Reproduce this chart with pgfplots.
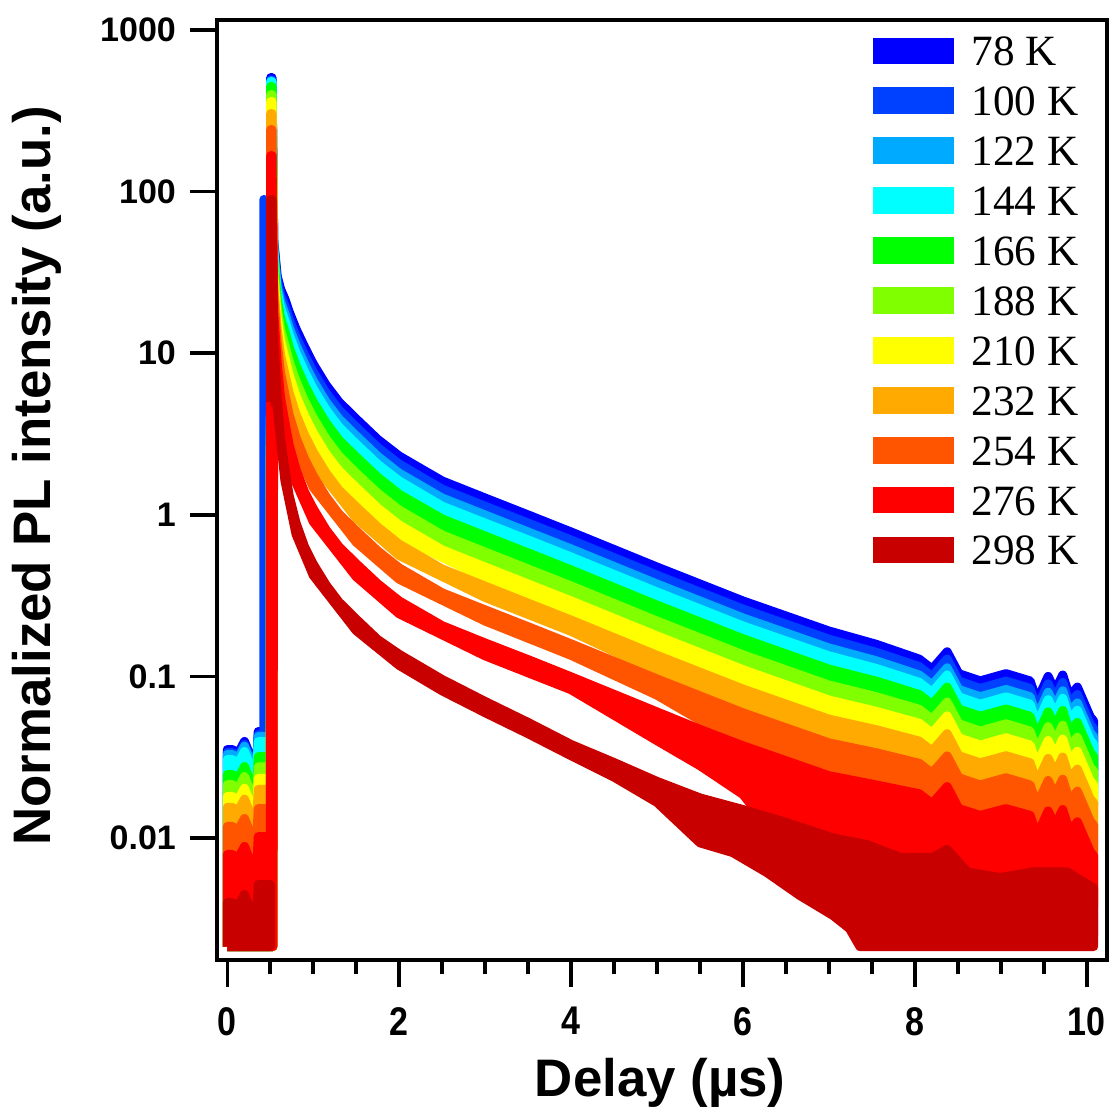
\documentclass[border=0pt]{standalone}
\usepackage{fontspec}
\setmainfont{Liberation Serif}
\newfontfamily\lsans{Liberation Sans}
\newfontfamily\lsansc[FakeStretch=0.85]{Liberation Sans}
\usepackage{pgfplots}
\pgfplotsset{compat=1.18}
\definecolor{k78}{RGB}{0,0,255}
\definecolor{k100}{RGB}{0,64,255}
\definecolor{k122}{RGB}{0,170,255}
\definecolor{k144}{RGB}{0,255,255}
\definecolor{k166}{RGB}{0,255,0}
\definecolor{k188}{RGB}{128,255,0}
\definecolor{k210}{RGB}{255,255,0}
\definecolor{k232}{RGB}{255,170,0}
\definecolor{k254}{RGB}{255,85,0}
\definecolor{k276}{RGB}{255,0,0}
\definecolor{k298}{RGB}{200,0,0}
\pgfplotsset{ser/.style={draw=#1, fill=#1, line width=2.25pt, line join=round, mark=none}}
\begin{document}
\begin{tikzpicture}
\begin{axis}[
  name=ax,
  scale only axis, width=222.5pt, height=235pt,
  xmin=-0.12, xmax=10.235,
  ymode=log, ymin=0.001758, ymax=1153,
  axis line style={line width=0.9pt},
  tick align=outside, tick pos=left,
  major tick length=6.75pt, minor tick length=3.6pt,
  every tick/.append style={black, line width=0.9pt},
  xtick={0,2,4,6,8,10}, xticklabels={0,2,4,6,8,10}, minor x tick num=3,
  ytick={0.01,0.1,1,10,100,1000}, yticklabels={0.01,0.1,1,10,100,1000},
  yminorticks=false,
  /pgf/number format/assume math mode=true,
  yticklabel style={font=\lsans\bfseries\fontsize{8.5}{10}\selectfont},
  xticklabel style={font=\lsansc\bfseries\fontsize{10}{12}\selectfont, yshift=-1.5pt},
  xlabel={Delay (µs)}, ylabel={Normalized PL intensity (a.u.)},
  label style={font=\lsans\bfseries\fontsize{13.2}{15}\selectfont},
  xlabel style={at={(axis description cs:0.498,-0.1457)}, anchor=base},
  ylabel style={at={(axis description cs:-0.2022,0.515)}, anchor=center},
  legend image code/.code={\path[#1,draw=none] (0pt,-3.35pt) rectangle (20.2pt,3.35pt);},
  legend style={draw=none, fill=none, at={(axis description cs:0.737,0.983)}, anchor=north west,
    inner sep=0pt, outer sep=0pt, row sep=4.975pt, column sep=4.5pt,
    font=\fontsize{10.8}{12}\selectfont,
    nodes={inner sep=0pt, text height=7.5pt, text depth=0pt}},
  legend cell align=left,
]
% 78 K
\addplot[ser=k78] coordinates {
(0,0.00213) (0,0.0353) (0.06,0.0353) (0.12,0.0329) (0.20,0.0396) (0.26,0.0329) (0.31,0.0277) (0.34,0.0277) (0.36,0.0456) (0.50,0.0456) (0.505,508) (0.52,508)
(0.54,50.1) (0.58,30.1) (0.62,24.9) (0.67,21.6) (0.72,18.0) (0.80,14.1) (0.90,10.9) (1.00,8.57) (1.15,6.35) (1.30,4.99) (1.50,3.92) (1.75,2.93) (2.00,2.31) (2.50,1.62) (3.00,1.27) (3.50,0.998) (4.00,0.783) (5.00,0.475) (6.00,0.293) (7.00,0.191) (7.55,0.158) (8.05,0.128) (8.20,0.111) (8.375,0.142) (8.51,0.104) (8.76,0.0938) (9.06,0.104) (9.34,0.0938) (9.42,0.0705) (9.55,0.100) (9.63,0.0813) (9.72,0.102) (9.80,0.0746) (9.89,0.0859) (10.04,0.0561) (10.08,0.0530)
(10.08,0.0266) (9.56,0.0501) (9.06,0.0521) (8.05,0.0641) (7.0,0.121) (6.0,0.207) (5.0,0.377) (4.0,0.666) (3.0,1.08) (2.0,1.97) (1.5,3.34) (1.0,7.29) (0.80,12.0) (0.67,18.4) (0.58,25.6) (0.54,42.6) (0.53,0.00213) (0,0.00213)
};
\addlegendentry{78 K}
% 100 K
\addplot[ser=k100] coordinates {
(0,0.00213) (0,0.0338) (0.06,0.0338) (0.12,0.0315) (0.20,0.0379) (0.26,0.0315) (0.31,0.0265) (0.34,0.0265) (0.36,0.0437) (0.425,0.0437) (0.425,89.4) (0.428,89.4) (0.428,0.0437) (0.50,0.0437) (0.505,490) (0.52,490)
(0.54,47.3) (0.58,28.1) (0.62,22.8) (0.67,19.6) (0.72,16.2) (0.80,12.6) (0.90,9.71) (1.00,7.64) (1.15,5.66) (1.30,4.45) (1.50,3.49) (1.75,2.61) (2.00,2.06) (2.50,1.44) (3.00,1.13) (3.50,0.889) (4.00,0.698) (5.00,0.423) (6.00,0.261) (7.00,0.170) (7.55,0.141) (8.05,0.115) (8.20,0.0998) (8.375,0.128) (8.51,0.0935) (8.76,0.0843) (9.06,0.0935) (9.34,0.0843) (9.42,0.0634) (9.55,0.0899) (9.63,0.0731) (9.72,0.0917) (9.80,0.0671) (9.89,0.0772) (10.04,0.0504) (10.08,0.0476)
(10.08,0.0238) (9.56,0.0450) (9.06,0.0468) (8.05,0.0576) (7.0,0.107) (6.0,0.185) (5.0,0.336) (4.0,0.594) (3.0,0.962) (2.0,1.75) (1.5,2.97) (1.0,6.50) (0.80,10.7) (0.67,16.7) (0.58,23.9) (0.54,40.3) (0.53,0.00213) (0,0.00213)
};
\addlegendentry{100 K}
% 122 K
\addplot[ser=k122] coordinates {
(0,0.00213) (0,0.0329) (0.06,0.0329) (0.12,0.0306) (0.20,0.0369) (0.26,0.0306) (0.31,0.0258) (0.34,0.0258) (0.36,0.0425) (0.50,0.0425) (0.505,484) (0.52,484)
(0.54,44.4) (0.58,26.0) (0.62,20.8) (0.67,17.6) (0.72,14.4) (0.80,11.2) (0.90,8.56) (1.00,6.73) (1.15,4.98) (1.30,3.92) (1.50,3.08) (1.75,2.30) (2.00,1.81) (2.50,1.27) (3.00,0.997) (3.50,0.783) (4.00,0.615) (5.00,0.373) (6.00,0.230) (7.00,0.150) (7.55,0.125) (8.05,0.102) (8.20,0.0886) (8.375,0.113) (8.51,0.0830) (8.76,0.0749) (9.06,0.0830) (9.34,0.0749) (9.42,0.0563) (9.55,0.0798) (9.63,0.0649) (9.72,0.0814) (9.80,0.0595) (9.89,0.0685) (10.04,0.0448) (10.08,0.0423)
(10.08,0.0212) (9.56,0.0400) (9.06,0.0416) (8.05,0.0511) (7.0,0.0947) (6.0,0.163) (5.0,0.296) (4.0,0.523) (3.0,0.848) (2.0,1.54) (1.5,2.62) (1.0,5.73) (0.80,9.53) (0.67,15.0) (0.58,22.1) (0.54,37.8) (0.53,0.00213) (0,0.00213)
};
\addlegendentry{122 K}
% 144 K
\addplot[ser=k144] coordinates {
(0,0.00213) (0,0.0306) (0.06,0.0306) (0.12,0.0285) (0.20,0.0343) (0.26,0.0285) (0.31,0.0240) (0.34,0.0240) (0.36,0.0395) (0.50,0.0395) (0.505,479) (0.52,479)
(0.54,41.9) (0.58,24.3) (0.62,19.0) (0.67,15.9) (0.72,13.0) (0.80,9.98) (0.90,7.63) (1.00,6.00) (1.15,4.45) (1.30,3.49) (1.50,2.74) (1.75,2.05) (2.00,1.62) (2.50,1.13) (3.00,0.889) (3.50,0.699) (4.00,0.548) (5.00,0.333) (6.00,0.205) (7.00,0.134) (7.55,0.112) (8.05,0.0919) (8.20,0.0797) (8.375,0.102) (8.51,0.0747) (8.76,0.0673) (9.06,0.0747) (9.34,0.0673) (9.42,0.0506) (9.55,0.0718) (9.63,0.0584) (9.72,0.0732) (9.80,0.0536) (9.89,0.0617) (10.04,0.0403) (10.08,0.0381)
(10.08,0.0191) (9.56,0.0360) (9.06,0.0374) (8.05,0.0460) (7.0,0.0846) (6.0,0.145) (5.0,0.264) (4.0,0.466) (3.0,0.757) (2.0,1.38) (1.5,2.33) (1.0,5.11) (0.80,8.49) (0.67,13.5) (0.58,20.7) (0.54,35.7) (0.53,0.00213) (0,0.00213)
};
\addlegendentry{144 K}
% 166 K
\addplot[ser=k166] coordinates {
(0,0.00213) (0,0.0247) (0.06,0.0247) (0.12,0.0230) (0.20,0.0277) (0.26,0.0230) (0.31,0.0194) (0.34,0.0194) (0.36,0.0319) (0.50,0.0319) (0.505,447) (0.52,447)
(0.54,38.2) (0.58,21.8) (0.62,16.6) (0.67,13.6) (0.72,10.9) (0.80,8.35) (0.90,6.34) (1.00,4.99) (1.15,3.70) (1.30,2.90) (1.50,2.28) (1.75,1.71) (2.00,1.34) (2.50,0.943) (3.00,0.739) (3.50,0.581) (4.00,0.456) (5.00,0.276) (6.00,0.171) (7.00,0.111) (7.55,0.0935) (8.05,0.0773) (8.20,0.0670) (8.375,0.0858) (8.51,0.0628) (8.76,0.0567) (9.06,0.0628) (9.34,0.0567) (9.42,0.0426) (9.55,0.0604) (9.63,0.0491) (9.72,0.0616) (9.80,0.0451) (9.89,0.0519) (10.04,0.0339) (10.08,0.0320)
(10.08,0.0160) (9.56,0.0303) (9.06,0.0315) (8.05,0.0387) (7.0,0.0700) (6.0,0.121) (5.0,0.219) (4.0,0.388) (3.0,0.629) (2.0,1.14) (1.5,1.94) (1.0,4.25) (0.80,7.11) (0.67,11.6) (0.58,18.6) (0.54,32.5) (0.53,0.00213) (0,0.00213)
};
\addlegendentry{166 K}
% 188 K
\addplot[ser=k188] coordinates {
(0,0.00213) (0,0.0214) (0.06,0.0214) (0.12,0.0199) (0.20,0.0240) (0.26,0.0199) (0.31,0.0168) (0.34,0.0168) (0.36,0.0276) (0.50,0.0276) (0.505,398) (0.52,398)
(0.54,34.1) (0.58,19.0) (0.62,14.0) (0.67,11.2) (0.72,8.87) (0.80,6.68) (0.90,5.05) (1.00,3.97) (1.15,2.94) (1.30,2.31) (1.50,1.81) (1.75,1.36) (2.00,1.07) (2.50,0.750) (3.00,0.588) (3.50,0.462) (4.00,0.363) (5.00,0.220) (6.00,0.136) (7.00,0.0884) (7.55,0.0749) (8.05,0.0626) (8.20,0.0543) (8.375,0.0694) (8.51,0.0509) (8.76,0.0459) (9.06,0.0509) (9.34,0.0459) (9.42,0.0345) (9.55,0.0489) (9.63,0.0398) (9.72,0.0499) (9.80,0.0365) (9.89,0.0420) (10.04,0.0274) (10.08,0.0259)
(10.08,0.0130) (9.56,0.0245) (9.06,0.0255) (8.05,0.0314) (7.0,0.0558) (6.0,0.0963) (5.0,0.175) (4.0,0.309) (3.0,0.500) (2.0,0.911) (1.5,1.54) (1.0,3.38) (0.80,5.68) (0.67,9.53) (0.58,16.2) (0.54,29.0) (0.53,0.00213) (0,0.00213)
};
\addlegendentry{188 K}
% 210 K
\addplot[ser=k210] coordinates {
(0,0.00213) (0,0.0181) (0.06,0.0181) (0.12,0.0169) (0.20,0.0203) (0.26,0.0169) (0.31,0.0142) (0.34,0.0142) (0.36,0.0234) (0.50,0.0234) (0.505,361) (0.52,361)
(0.54,30.7) (0.58,16.7) (0.62,11.9) (0.67,9.37) (0.72,7.29) (0.80,5.43) (0.90,4.08) (1.00,3.21) (1.15,2.37) (1.30,1.87) (1.50,1.47) (1.75,1.10) (2.00,0.864) (2.50,0.606) (3.00,0.475) (3.50,0.373) (4.00,0.293) (5.00,0.178) (6.00,0.110) (7.00,0.0714) (7.55,0.0608) (8.05,0.0513) (8.20,0.0445) (8.375,0.0569) (8.51,0.0417) (8.76,0.0376) (9.06,0.0417) (9.34,0.0376) (9.42,0.0283) (9.55,0.0401) (9.63,0.0326) (9.72,0.0409) (9.80,0.0299) (9.89,0.0344) (10.04,0.0225) (10.08,0.0213)
(10.08,0.0107) (9.56,0.0201) (9.06,0.0209) (8.05,0.0257) (7.0,0.0451) (6.0,0.0779) (5.0,0.141) (4.0,0.249) (3.0,0.404) (2.0,0.735) (1.5,1.25) (1.0,2.73) (0.80,4.62) (0.67,7.97) (0.58,14.2) (0.54,26.1) (0.53,0.00213) (0,0.00213)
};
\addlegendentry{210 K}
% 232 K
\addplot[ser=k232] coordinates {
(0,0.00213) (0,0.0155) (0.06,0.0155) (0.12,0.0144) (0.20,0.0174) (0.26,0.0144) (0.31,0.0122) (0.34,0.0122) (0.36,0.0200) (0.50,0.0200) (0.505,304) (0.52,304)
(0.54,26.8) (0.58,14.2) (0.62,9.71) (0.67,7.43) (0.72,5.67) (0.80,4.17) (0.90,3.11) (1.00,2.44) (1.15,1.81) (1.30,1.42) (1.50,1.12) (1.75,0.840) (2.00,0.658) (2.50,0.462) (3.00,0.362) (3.50,0.284) (4.00,0.223) (5.00,0.135) (6.00,0.0835) (7.00,0.0544) (7.55,0.0468) (8.05,0.0398) (8.20,0.0345) (8.375,0.0442) (8.51,0.0323) (8.76,0.0292) (9.06,0.0323) (9.34,0.0292) (9.42,0.0219) (9.55,0.0311) (9.63,0.0253) (9.72,0.0317) (9.80,0.0232) (9.89,0.0267) (10.04,0.0174) (10.08,0.0165)
(10.08,0.00827) (9.56,0.0156) (9.06,0.0162) (8.05,0.0199) (7.0,0.0343) (6.0,0.0591) (5.0,0.107) (4.0,0.190) (3.0,0.308) (2.0,0.560) (1.5,0.953) (1.0,2.08) (0.80,3.55) (0.67,6.32) (0.58,12.1) (0.54,22.8) (0.53,0.00213) (0,0.00213)
};
\addlegendentry{232 K}
% 254 K
\addplot[ser=k254] coordinates {
(0,0.00213) (0,0.0118) (0.06,0.0118) (0.12,0.0110) (0.20,0.0132) (0.26,0.0110) (0.31,0.00926) (0.34,0.00926) (0.36,0.0152) (0.50,0.0152) (0.505,242) (0.52,242)
(0.54,22.6) (0.58,11.6) (0.62,7.52) (0.67,5.57) (0.72,4.14) (0.80,3.00) (0.90,2.21) (1.00,1.74) (1.15,1.29) (1.30,1.01) (1.50,0.796) (1.75,0.598) (2.00,0.469) (2.50,0.329) (3.00,0.258) (3.50,0.203) (4.00,0.159) (5.00,0.0964) (6.00,0.0595) (7.00,0.0388) (7.55,0.0337) (8.05,0.0290) (8.20,0.0252) (8.375,0.0322) (8.51,0.0236) (8.76,0.0213) (9.06,0.0236) (9.34,0.0213) (9.42,0.0160) (9.55,0.0227) (9.63,0.0184) (9.72,0.0231) (9.80,0.0169) (9.89,0.0195) (10.04,0.0127) (10.08,0.0120)
(10.08,0.00379) (9.56,0.00717) (9.06,0.00746) (8.05,0.00916) (7.0,0.0154) (6.0,0.0375) (5.0,0.0765) (4.0,0.135) (3.0,0.220) (2.0,0.399) (1.5,0.677) (1.0,1.48) (0.80,2.55) (0.67,4.74) (0.58,9.87) (0.54,19.2) (0.53,0.00213) (0,0.00213)
};
\addlegendentry{254 K}
% 276 K
\addplot[ser=k276] coordinates {
(0,0.00213) (0,0.00791) (0.06,0.00791) (0.12,0.00736) (0.20,0.00887) (0.26,0.00736) (0.31,0.00621) (0.34,0.00621) (0.36,0.0102) (0.50,0.0102) (0.505,167) (0.52,167)
(0.54,17.8) (0.58,8.73) (0.62,5.28) (0.67,3.74) (0.72,2.70) (0.80,1.90) (0.90,1.38) (1.00,1.09) (1.15,0.806) (1.30,0.634) (1.50,0.498) (1.75,0.374) (2.00,0.293) (2.50,0.206) (3.00,0.161) (3.50,0.127) (4.00,0.0994) (5.00,0.0603) (5.50,0.0470) (6.00,0.0372) (7.00,0.0243) (7.55,0.0213) (8.05,0.0188) (8.20,0.0163) (8.375,0.0208) (8.51,0.0152) (8.76,0.0138) (9.06,0.0152) (9.34,0.0138) (9.42,0.0103) (9.55,0.0147) (9.63,0.0119) (9.72,0.0150) (9.80,0.0109) (9.89,0.0126) (10.04,0.00822) (10.08,0.00777)
(10.08,0.0025) (9.56,0.0025) (9.06,0.0025) (8.05,0.0028) (7.0,0.0040) (6.0,0.0186) (5.5,0.0280) (5.0,0.0400) (4.0,0.0827) (3.0,0.134) (2.0,0.244) (1.5,0.414) (1.0,0.907) (0.80,1.58) (0.67,3.11) (0.58,7.26) (0.54,14.8) (0.53,0.00213) (0,0.00213)
};
\addlegendentry{276 K}
% 298 K: pre-pulse part
\addplot[ser=k298] coordinates {
(0,0.00213) (0,0.00399) (0.06,0.00399) (0.12,0.00371) (0.20,0.00447) (0.26,0.00371) (0.31,0.00313) (0.34,0.00313) (0.36,0.00516) (0.50,0.00516) (0.50,0.00213) (0,0.00213)
};
\addlegendentry{298 K}
% 298 K: pulse and decay
\addplot[ser=k298, forget plot] coordinates {
(0.505,5.0) (0.505,89.3) (0.52,89.3)
(0.54,12.05) (0.58,5.43) (0.62,2.94) (0.67,1.92) (0.72,1.31) (0.80,0.889) (0.90,0.631) (1.00,0.495) (1.15,0.367) (1.30,0.288) (1.50,0.226) (1.75,0.169) (2.00,0.137) (2.50,0.0957) (3.00,0.0700) (3.50,0.0519) (4.00,0.0379) (4.50,0.0293) (5.00,0.0224) (5.50,0.0177) (6.00,0.0150) (6.50,0.0125) (7.05,0.0100) (7.44,0.00912) (7.83,0.00759) (8.21,0.00759) (8.375,0.00851) (8.61,0.00617) (8.99,0.00569) (9.37,0.00617) (9.77,0.00617) (10.08,0.00490)
(10.08,0.00213) (7.36,0.00213) (7.24,0.00275) (7.05,0.00331) (6.66,0.00441) (6.28,0.00610) (5.88,0.00813) (5.50,0.00933) (5.00,0.0166) (4.50,0.0238) (4.00,0.0323) (3.50,0.0442) (3.00,0.0596) (2.50,0.0814) (2.00,0.117) (1.50,0.192) (1.00,0.422) (0.80,0.757) (0.67,1.63) (0.58,4.62) (0.54,10.3) (0.52,5.0) (0.505,5.0)
};
\coordinate (sw) at (rel axis cs:0,0);
\coordinate (ne) at (rel axis cs:1,1);
\end{axis}
\pgfresetboundingbox
\path ([shift={(-54.25pt,-36.5pt)}]sw) rectangle ([shift={(1.25pt,5pt)}]ne);
\end{tikzpicture}
\end{document}
